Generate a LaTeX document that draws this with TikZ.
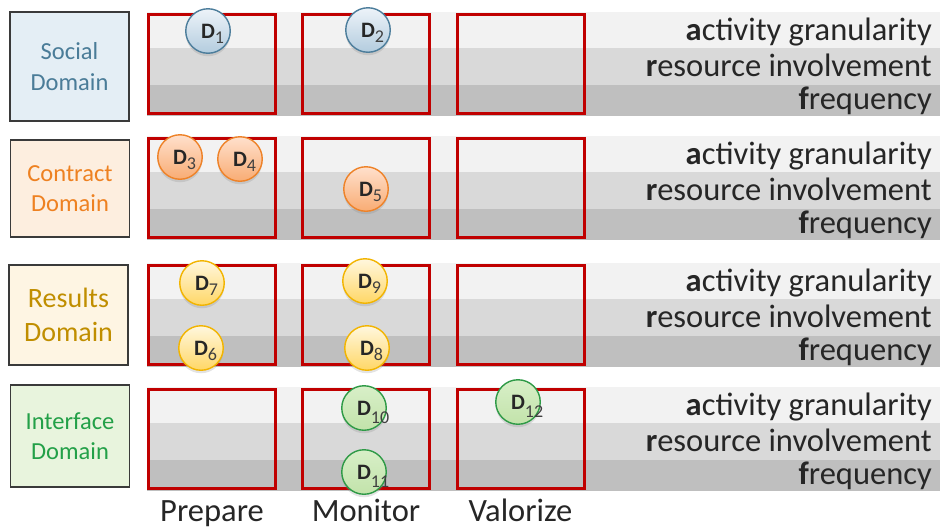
\documentclass[tikz,border=0pt]{standalone}
\usepackage{fontspec}
\setmainfont{Carlito}
\usepackage{xcolor}
\usepackage{tikz}
\usetikzlibrary{positioning,shadows}

\definecolor{bandA}{HTML}{F2F2F2}
\definecolor{bandB}{HTML}{D9D9D9}
\definecolor{bandC}{HTML}{BFBFBF}
\definecolor{boxred}{HTML}{C00000}
\definecolor{txtgray}{HTML}{262626}
\definecolor{subgray}{HTML}{404040}
\definecolor{domline}{HTML}{3A3A3A}
\definecolor{socialfill}{HTML}{E4EEF5}
\definecolor{socialtxt}{HTML}{4A7C98}
\definecolor{contractfill}{HTML}{FDEEDF}
\definecolor{contracttxt}{HTML}{EE8121}
\definecolor{resultsfill}{HTML}{FEF5E3}
\definecolor{resultstxt}{HTML}{C08E00}
\definecolor{interfacefill}{HTML}{E8F4DD}
\definecolor{interfacetxt}{HTML}{23A048}
\definecolor{socialline}{HTML}{4C7D9B}
\definecolor{socialtop}{HTML}{EDF3F9}
\definecolor{socialbot}{HTML}{B3CCDE}
\definecolor{contractline}{HTML}{EE8228}
\definecolor{contracttop}{HTML}{FFE0CC}
\definecolor{contractbot}{HTML}{F8AC74}
\definecolor{resultsline}{HTML}{F2B400}
\definecolor{resultstop}{HTML}{FFF7DE}
\definecolor{resultsbot}{HTML}{FFD766}
\definecolor{interfaceline}{HTML}{2E9A46}
\definecolor{interfacetop}{HTML}{D8EFC8}
\definecolor{interfacebot}{HTML}{C2E3AA}

% D centred in the circle, index hanging to its right
\newcommand{\dlab}[2][-5pt]{{\fontsize{22}{22}\selectfont\bfseries D}\rlap{\raisebox{#1}[0pt][0pt]{\fontsize{18}{18}\selectfont\color{subgray}#2}}}
\newcommand{\bigtxt}{\fontsize{32.5}{34}\selectfont}

\begin{document}
\begin{tikzpicture}[x=1pt,y=-1pt,
    domain box/.style={draw=domline,line width=1.8pt,minimum width=119pt,inner sep=0pt,align=center,font=\fontsize{24.5}{30.6}\selectfont},
    stage/.style={draw=boxred,line width=3pt,minimum width=127pt,minimum height=99pt,inner sep=0pt},
    crit/.style={text=txtgray,inner sep=0pt,font=\bigtxt},
    main node/.style={circle,line width=1.4pt,minimum size=44.5pt,inner sep=0pt,text=txtgray,drop shadow={opacity=0.22,shadow xshift=0pt,shadow yshift=-3pt}},
    social node/.style={main node,draw=socialline,top color=socialtop,bottom color=socialbot},
    contract node/.style={main node,draw=contractline,top color=contracttop,bottom color=contractbot},
    results node/.style={main node,draw=resultsline,top color=resultstop,bottom color=resultsbot},
    interface node/.style={main node,draw=interfaceline,top color=interfacetop,bottom color=interfacebot}]

    \useasboundingbox (0,0) rectangle (940,528);

    % grey bands and criteria
    \foreach \t [count=\i] in {12,136,263,387} {
        \fill[bandA] (147,\t) rectangle (940,\t+36);
        \fill[bandB] (147,\t+36) rectangle (940,\t+73);
        \fill[bandC] (147,\t+73) rectangle (940,\t+104);
        \node[crit,anchor=base east] (act\i) at (932,\t+28) {\textbf{a}ctivity granularity};
        \node[crit,anchor=base east] (res\i) at (932,\t+64) {\textbf{r}esource involvement};
        \node[crit,anchor=base east] (freq\i) at (932,\t+97) {\textbf{f}requency};
        \node[stage] (prep\i) at (212,\t+52) {};
        \node[stage] (mon\i) at (366,\t+52) {};
        \node[stage] (val\i) at (520.5,\t+52) {};
    }

    \node[domain box,fill=socialfill,text=socialtxt,minimum height=109pt] (social) at (69.5,66.5) {Social\\Domain};
    \node[domain box,fill=contractfill,text=contracttxt,minimum height=97pt] (contract) at (70,188.5) {Contract\\Domain};
    \node[domain box,fill=resultsfill,text=resultstxt,minimum height=100pt,font=\fontsize{28}{34.4}\selectfont] (results) at (68.5,315) {Results\\Domain};
    \node[domain box,fill=interfacefill,text=interfacetxt,minimum height=102pt] (interface) at (70,436) {Interface\\Domain};

    \node[social node] (d1) at (208,31) {\dlab{1}};
    \node[social node] (d2) at (368,30) {\dlab{2}};
    \node[contract node] (d3) at (180,157) {\dlab{3}};
    \node[contract node] (d4) at (240,159) {\dlab{4}};
    \node[contract node] (d5) at (366,189) {\dlab{5}};
    \node[results node] (d7) at (202,283) {\dlab{7}};
    \node[results node] (d6) at (201,348) {\dlab{6}};
    \node[results node] (d9) at (365,281) {\dlab{9}};
    \node[results node] (d8) at (367,348) {\dlab{8}};
    \node[interface node] (d10) at (364,408) {\dlab[-8pt]{10}};
    \node[interface node] (d11) at (364,472) {\dlab[-8pt]{11}};
    \node[interface node] (d12) at (518,402) {\dlab[-8pt]{12}};

    \node[crit,anchor=base] (prepare) at (212,521) {Prepare};
    \node[crit,anchor=base] (monitor) at (366,521) {Monitor};
    \node[crit,anchor=base] (valorize) at (520.5,521) {Valorize};
\end{tikzpicture}
\end{document}
